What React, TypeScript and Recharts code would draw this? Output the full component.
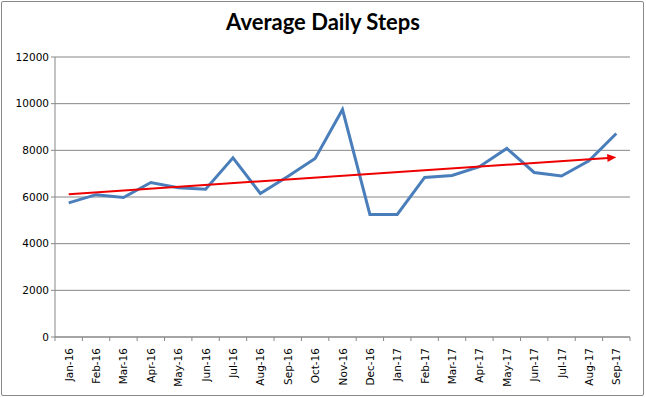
import { LineChart, Line, XAxis, YAxis, CartesianGrid, ReferenceLine } from "recharts";

// Monthly average daily step counts.
const MONTHS = [
  "Jan-16", "Feb-16", "Mar-16", "Apr-16", "May-16", "Jun-16", "Jul-16",
  "Aug-16", "Sep-16", "Oct-16", "Nov-16", "Dec-16", "Jan-17", "Feb-17",
  "Mar-17", "Apr-17", "May-17", "Jun-17", "Jul-17", "Aug-17", "Sep-17",
];
const STEPS = [
  5750, 6100, 5980, 6620, 6400, 6330, 7680,
  6150, 6880, 7650, 9750, 5250, 5250, 6840,
  6920, 7300, 8080, 7050, 6900, 7550, 8720,
];
const Y_TICKS = [0, 2000, 4000, 6000, 8000, 10000, 12000];

// Linear trend (Excel trendline) endpoints.
const TREND_START = 6120;
const TREND_END = 7700;

const data = MONTHS.map((month, i) => ({ month, steps: STEPS[i] }));

const AXIS_FONT = "'DejaVu Sans', Verdana, sans-serif";
const GRID = "#878787";

// Category label rotated -90, plus Excel-style tick marks between categories.
function MonthTick(props: any) {
  const { x, y, payload, index } = props;
  const half = payload?.offset || 13.7;
  return (
    <g>
      <line x1={x - half} y1={y - 8} x2={x - half} y2={y - 4} stroke={GRID} />
      {index === MONTHS.length - 1 && (
        <line x1={x + half} y1={y - 8} x2={x + half} y2={y - 4} stroke={GRID} />
      )}
      <text
        x={x}
        y={y}
        transform={`rotate(-90, ${x}, ${y})`}
        textAnchor="end"
        dy={4}
        dx={-3}
        fontFamily={AXIS_FONT}
        fontSize={10.5}
        fill="#000"
      >
        {payload.value}
      </text>
    </g>
  );
}

// Trend segment with an arrowhead at its end.
function TrendArrow(props: any) {
  const { x1, y1, x2, y2 } = props;
  const ang = Math.atan2(y2 - y1, x2 - x1);
  const len = 9;
  const w = 4;
  const bx = x2 - len * Math.cos(ang);
  const by = y2 - len * Math.sin(ang);
  const px = -Math.sin(ang) * w;
  const py = Math.cos(ang) * w;
  return (
    <g>
      <line x1={x1} y1={y1} x2={bx + 1} y2={by} stroke="#ee0000" strokeWidth={2} />
      <polygon
        points={`${x2},${y2} ${bx + px},${by + py} ${bx - px},${by - py}`}
        fill="#ee0000"
      />
    </g>
  );
}

export default function App() {
  return (
    <div
      style={{
        position: "fixed",
        left: 0,
        top: 0,
        width: 646,
        height: 397,
        background: "#fff",
      }}
    >
      <div
        style={{
          position: "absolute",
          left: 0,
          top: 8,
          width: 646,
          textAlign: "center",
          fontFamily: "Lato, 'Open Sans', sans-serif",
          fontWeight: 700,
          fontSize: 22,
          color: "#000",
        }}
      >
        Average Daily Steps
      </div>
      <LineChart
        width={646}
        height={397}
        data={data}
        margin={{ top: 57, right: 16, left: 0, bottom: 0 }}
      >
        <CartesianGrid vertical={false} stroke={GRID} strokeDasharray="" />
        <XAxis
          dataKey="month"
          scale="band"
          height={60}
          interval={0}
          axisLine={{ stroke: GRID }}
          tickLine={false}
          tick={<MonthTick />}
        />
        <YAxis
          width={55}
          domain={[0, 12000]}
          ticks={Y_TICKS}
          axisLine={{ stroke: GRID }}
          tickLine={{ stroke: GRID }}
          tickSize={4}
          tick={{ fill: "#000", fontSize: 10.5, fontFamily: AXIS_FONT }}
        />
        <Line
          type="linear"
          dataKey="steps"
          stroke="#4a7ebb"
          strokeWidth={3}
          dot={false}
          isAnimationActive={false}
        />
        <ReferenceLine
          segment={[
            { x: MONTHS[0], y: TREND_START },
            { x: MONTHS[MONTHS.length - 1], y: TREND_END },
          ]}
          shape={<TrendArrow />}
        />
      </LineChart>
      <div
        style={{
          position: "absolute",
          left: 1,
          top: 1,
          width: 641,
          height: 393,
          border: "1px solid #888",
          borderRadius: 2,
          pointerEvents: "none",
        }}
      />
    </div>
  );
}
